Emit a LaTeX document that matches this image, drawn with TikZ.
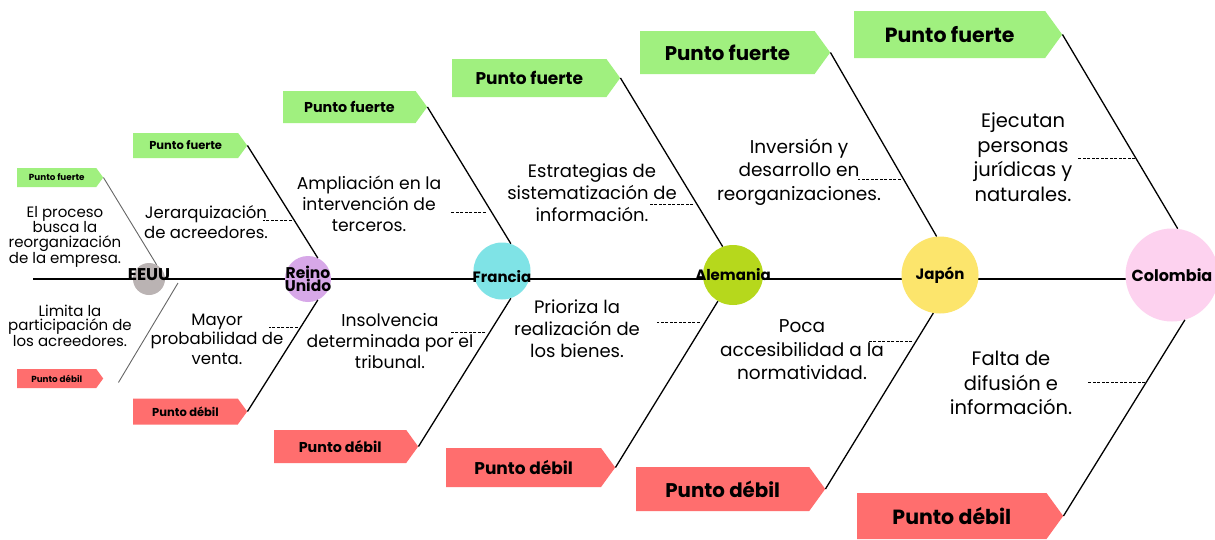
\documentclass[tikz,border=0pt]{standalone}
\usepackage{fontspec}
\setmainfont{Poppins}
\usetikzlibrary{shapes.symbols,calc}
\definecolor{fuerte}{HTML}{A0F07F}
\definecolor{debil}{HTML}{FF6E6E}
\definecolor{EEUU}{HTML}{BAB3B3}
\definecolor{RU}{HTML}{D7A8E8}
\definecolor{FR}{HTML}{7FE3E6}
\definecolor{AL}{HTML}{B6D81C}
\definecolor{JP}{HTML}{FCE56C}
\definecolor{CO}{HTML}{FDD2EF}
\newcommand\fs[2]{\fontsize{#1}{#2}\selectfont}
\tikzset{
  tagbox/.style={signal, signal to=east, signal pointer angle=108, anchor=west, inner sep=0pt},
  pais/.style={circle, inner sep=0pt},
  paislbl/.style={font=\bfseries\fs{15}{15}, align=center, inner sep=0pt},
  hueso/.style={line width=1.3pt},
  espina/.style={line width=1.8pt},
  dashline/.style={dash pattern=on 3pt off 1.5pt, line width=0.9pt},
  txt/.style={align=center, inner sep=0pt}
}

\begin{document}
\begin{tikzpicture}[x=1pt, y=-1pt]
    \path[use as bounding box, fill=white] (0,0) rectangle (1215,539);

    % espina
    \coordinate (inicio) at (33,279);
    \coordinate (fin) at (1172,279);
    \draw[espina] (inicio) -- (fin);

    % paises
    \node at (149,279) (eeuu) [pais, fill=EEUU, minimum size=32, label={[paislbl, font=\bfseries\fs{17}{17}, yshift=4]center:EEUU}] {};
    \node at (308,279) (ru) [pais, fill=RU, minimum size=46, label={[paislbl, font=\bfseries\fs{15.5}{13.5}]center:Reino\\Unido}] {};
    \node at (502,271) (fr) [pais, fill=FR, minimum size=57, label={[paislbl, yshift=-6]center:Francia}] {};
    \node at (733,275) (al) [pais, fill=AL, minimum size=60, label={[paislbl]center:Alemania}] {};
    \node at (940,275) (jp) [pais, fill=JP, minimum size=77, label={[paislbl]center:Japón}] {};
    \node at (1172,275) (co) [pais, fill=CO, minimum size=93, label={[paislbl, font=\bfseries\fs{16}{16}]center:Colombia}] {};

    % etiquetas
    \node at (17,177.5) (pf1) [tagbox, fill=fuerte, minimum width=86, minimum height=19, font=\bfseries\fs{8.8}{8.8}] {Punto fuerte};
    \node at (17,378.5) (pd1) [tagbox, fill=debil, minimum width=86, minimum height=19, font=\bfseries\fs{8.8}{8.8}] {Punto débil};
    \node at (133,145.5) (pf2) [tagbox, fill=fuerte, minimum width=114, minimum height=25, font=\bfseries\fs{11.5}{11.5}] {Punto fuerte};
    \node at (133,411.5) (pd2) [tagbox, fill=debil, minimum width=114, minimum height=26, font=\bfseries\fs{11.5}{11.5}] {Punto débil};
    \node at (283,107) (pf3) [tagbox, fill=fuerte, minimum width=144, minimum height=32, font=\bfseries\fs{14.3}{14.3}] {Punto fuerte};
    \node at (274,446.5) (pd3) [tagbox, fill=debil, minimum width=144, minimum height=33, font=\bfseries\fs{14.3}{14.3}] {Punto débil};
    \node at (452,78) (pf4) [tagbox, fill=fuerte, minimum width=168, minimum height=38, font=\bfseries\fs{17}{17}] {Punto fuerte};
    \node at (446,467.5) (pd4) [tagbox, fill=debil, minimum width=169, minimum height=39, font=\bfseries\fs{17}{17}] {Punto débil};
    \node at (640,52.5) (pf5) [tagbox, fill=fuerte, minimum width=190, minimum height=43, font=\bfseries\fs{19.8}{19.8}] {Punto fuerte};
    \node at (636,489) (pd5) [tagbox, fill=debil, minimum width=189, minimum height=44, font=\bfseries\fs{19.8}{19.8}] {Punto débil};
    \node at (854,34.5) (pf6) [tagbox, fill=fuerte, minimum width=208, minimum height=47, font=\bfseries\fs{20.5}{20.5}] {Punto fuerte};
    \node at (857,516) (pd6) [tagbox, fill=debil, minimum width=206, minimum height=46, font=\bfseries\fs{20.5}{20.5}] {Punto débil};

    % huesos
    \draw[line width=0.9pt, black!60] (pf1.east) -- (eeuu.62);
    \draw[line width=0.9pt, black!60] ([shift={(15,4)}]pd1.east) -- ([shift={(29,4)}]eeuu.center);
    \draw[hueso] (pf2.east) -- (ru.65);
    \draw[hueso] (pd2.east) -- (ru.-65);
    \draw[hueso] (pf3.east) -- (fr.72);
    \draw[hueso] (pd3.east) -- (fr.-72);
    \draw[hueso] (pf4.east) -- (al.110);
    \draw[hueso] (pd4.east) -- (al.-120);
    \draw[hueso] (pf5.east) -- (jp.95);
    \draw[hueso] (pd5.east) -- (jp.-100);
    \draw[hueso] (pf6.east) -- (co.83);
    \draw[hueso] (pd6.east) -- (co.-74);

    % trazos
    \draw[dashline] ($(pf2.east)!.67!(ru.65)$) ++(-3,0) -- ++(-29,0);
    \draw[dashline] ($(pd2.east)!.755!(ru.-65)$) ++(-3,0) -- ++(-29,0);
    \draw[dashline] ($(pf3.east)!.77!(fr.72)$) ++(-6,0) -- ++(-36,0);
    \draw[dashline] ($(pd3.east)!.767!(fr.-72)$) ++(-4,0) -- ++(-36,0);
    \draw[dashline] ($(pf4.east)!.75!(al.110)$) ++(-4,0) -- ++(-44,0);
    \draw[dashline] ($(pd4.east)!.87!(al.-120)$) ++(-5,0) -- ++(-43,0);
    \draw[dashline] ($(pf5.east)!.69!(jp.95)$) ++(-3,0) -- ++(-43,0);
    \draw[dashline] ($(pd5.east)!.84!(jp.-100)$) ++(-4,0) -- ++(-43,0);
    \draw[dashline] ($(pf6.east)!.64!(co.83)$) ++(-1,0) -- ++(-57,0);
    \draw[dashline] ($(pd6.east)!.68!(co.-74)$) ++(-1,0) -- ++(-58,0);

    % textos
    \node at (65,237) (t1a) [txt, font=\fs{15}{15}] {El proceso\\busca la\\reorganización\\de la empresa.};
    \node at (70,326) (t1b) [txt, font=\fs{15}{14.5}] {Limita la\\participación de\\los acreedores.};
    \node at (206,222) (t2a) [txt, font=\fs{16.5}{20}] {Jerarquización\\de acreedores.};
    \node at (217,339) (t2b) [txt, font=\fs{16.5}{19.5}] {Mayor\\probabilidad de\\venta.};
    \node at (369,204) (t3a) [txt, font=\fs{17.2}{21}] {Ampliación en la\\intervención de\\terceros.};
    \node at (390,341) (t3b) [txt, font=\fs{17.2}{21}] {Insolvencia\\determinada por el\\tribunal.};
    \node at (592,193) (t4a) [txt, font=\fs{18}{22}] {Estrategias de\\sistematización de\\información.};
    \node at (577,329) (t4b) [txt, font=\fs{18}{22}] {Prioriza la\\realización de\\los bienes.};
    \node at (799,172) (t5a) [txt, font=\fs{18.5}{23.5}] {Inversión y\\desarrollo en\\reorganizaciones.};
    \node at (802,350) (t5b) [txt, font=\fs{18.5}{23.5}] {Poca\\accesibilidad a la\\normatividad.};
    \node at (1023,157) (t6a) [txt, font=\fs{19.5}{24.5}] {Ejecutan\\personas\\jurídicas y\\naturales.};
    \node at (1011,383) (t6b) [txt, font=\fs{19.5}{24.5}] {Falta de\\difusión e\\información.};
\end{tikzpicture}
\end{document}
